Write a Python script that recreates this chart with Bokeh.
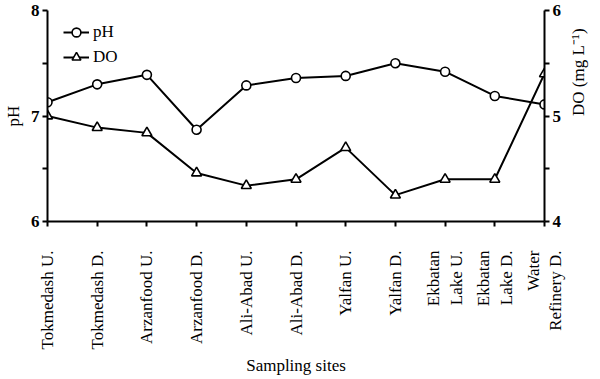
import math
from bokeh.plotting import figure
from bokeh.models import (Range1d, LinearAxis, FixedTicker, Legend, LegendItem,
                          ColumnDataSource)
from bokeh.embed import file_html
from bokeh.resources import INLINE

# ---- data ----
sites = ["Tokmedash U.", "Tokmedash D.", "Arzanfood U.", "Arzanfood D.",
         "Ali-Abad U.", "Ali-Abad D.", "Yalfan U.", "Yalfan D.",
         "Ekbatan\nLake U.", "Ekbatan\nLake D.", "Water\nRefinery D."]
ph = [7.13, 7.30, 7.39, 6.87, 7.29, 7.36, 7.38, 7.50, 7.42, 7.19, 7.11]
do = [5.00, 4.89, 4.84, 4.46, 4.34, 4.40, 4.70, 4.25, 4.40, 4.40, 5.40]
ph_ticks = [6, 7, 8]
ph_minor = [6.5, 7.5]
do_ticks = [4, 5, 6]
do_minor = [4.5, 5.5]

FONT = "Liberation Serif"
FS = "17px"

idx = list(range(len(sites)))
src = ColumnDataSource(dict(x=idx, ph=ph, do=do))

p = figure(frame_width=497, frame_height=211, output_backend="svg", toolbar_location=None,
           x_range=Range1d(0, len(sites) - 1), y_range=Range1d(6, 8),
           min_border_left=44, min_border_right=43, min_border_top=10,
           min_border_bottom=142, x_axis_location="below", y_axis_location="left")
p.extra_y_ranges = {"do": Range1d(4, 6)}
p.outline_line_color = None
p.xgrid.visible = False
p.ygrid.visible = False
p.background_fill_color = "white"
p.border_fill_color = "white"

# left axis
ya = p.yaxis[0]
ya.ticker = FixedTicker(ticks=ph_ticks, minor_ticks=ph_minor)
ya.axis_label = "pH"

# right axis
ra = LinearAxis(y_range_name="do", axis_label="DO (mg L\u207b\u00b9)",
                ticker=FixedTicker(ticks=do_ticks, minor_ticks=do_minor))
ra.axis_label_orientation = math.pi / 2
p.add_layout(ra, "right")

# bottom axis
xa = p.xaxis[0]
xa.ticker = FixedTicker(ticks=idx)
xa.major_label_overrides = {i: s for i, s in enumerate(sites)}
xa.major_label_orientation = math.pi / 2
xa.axis_label = "Sampling sites"

for ax in [ya, ra, xa]:
    ax.axis_line_width = 2
    ax.axis_line_color = "black"
    ax.major_tick_line_width = 2
    ax.major_tick_line_color = "black"
    ax.minor_tick_line_width = 2
    ax.minor_tick_line_color = "black"
    ax.major_tick_in = 0
    ax.major_tick_out = 5
    ax.minor_tick_in = 0
    ax.minor_tick_out = 5
    ax.major_label_text_font = FONT
    ax.major_label_text_font_size = FS
    ax.major_label_text_color = "black"
    ax.axis_label_text_font = FONT
    ax.axis_label_text_font_size = FS
    ax.axis_label_text_font_style = "normal"
    ax.axis_label_text_color = "black"
xa.minor_tick_line_color = None

for ax in [ya, ra]:
    ax.major_label_text_font_style = "bold"
    ax.major_label_standoff = 3
ya.axis_label_standoff = 5
ra.axis_label_standoff = 14
xa.major_label_standoff = 24
xa.axis_label_standoff = 4

# series
l1 = p.line("x", "ph", source=src, line_color="black", line_width=2)
s1 = p.scatter("x", "ph", source=src, marker="circle", size=9,
               fill_color="white", line_color="black", line_width=1.6)
l2 = p.line("x", "do", source=src, y_range_name="do", line_color="black", line_width=2)
s2 = p.scatter("x", "do", source=src, y_range_name="do", marker="triangle", size=10,
               fill_color="white", line_color="black", line_width=1.6)

legend = Legend(items=[LegendItem(label="pH", renderers=[l1, s1]),
                       LegendItem(label="DO", renderers=[l2, s2])],
                location=(16, 153), margin=0, padding=0, spacing=3,
                label_height=22, glyph_height=22, glyph_width=26,
                label_standoff=4,
                label_text_font=FONT, label_text_font_size=FS,
                label_text_color="black",
                border_line_color=None, background_fill_alpha=0)
p.add_layout(legend, "center")

open("out.html", "w").write(file_html(p, INLINE))
